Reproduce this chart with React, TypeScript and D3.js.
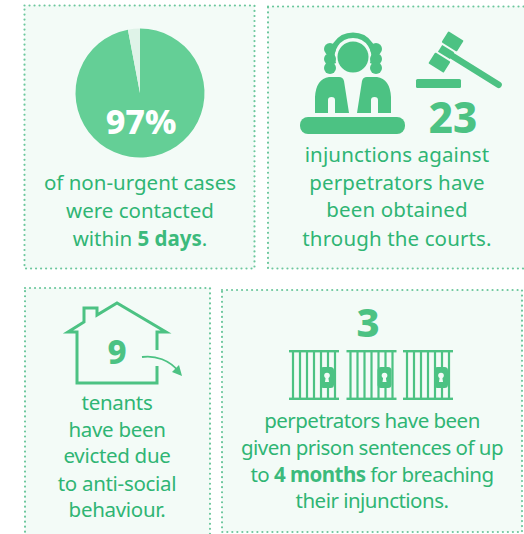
import React from 'react';
import * as d3 from 'd3';

const pieLabels = ['contacted', 'other'];
const pieValues = [97, 3];
const injunctions = 23;
const evictions = 9;
const prisonSentences = 3;
const jailCells = d3.range(prisonSentences);
const jailBars = [0, 1, 2, 3, 4, 5, 6];

type Run = { t: string; b?: boolean };
const pieLines: Run[][] = [
  [{ t: 'of non-urgent cases' }],
  [{ t: 'were contacted' }],
  [{ t: 'within ' }, { t: '5 days', b: true }, { t: '.' }],
];
const courtLines: Run[][] = [
  [{ t: 'injunctions against' }],
  [{ t: 'perpetrators have' }],
  [{ t: 'been obtained' }],
  [{ t: 'through the courts.' }],
];
const tenantLines: Run[][] = [
  [{ t: 'tenants' }],
  [{ t: 'have been' }],
  [{ t: 'evicted due' }],
  [{ t: 'to anti-social' }],
  [{ t: 'behaviour.' }],
];
const prisonLines: Run[][] = [
  [{ t: 'perpetrators have been' }],
  [{ t: 'given prison sentences of up' }],
  [{ t: 'to ' }, { t: '4 months', b: true }, { t: ' for breaching' }],
  [{ t: 'their injunctions.' }],
];

const FONT = '"Noto Sans", sans-serif';
const PANEL = '#f3fbf7';
const DOTS = '#6cc79d';
const TEXT = '#2fb574';
const ICON = '#4cc283';
const PIE_MAIN = '#64cf96';
const PIE_REST = '#dff3e8';

function Panel({ x, y, w, h }: { x: number; y: number; w: number; h: number }) {
  return (
    <rect x={x} y={y} width={w} height={h} fill={PANEL} stroke={DOTS} strokeWidth={2.2}
      strokeDasharray="0.01 5" strokeLinecap="round" />
  );
}

function Lines({ lines, x, baselines, spacing = 0 }: { lines: Run[][]; x: number; baselines: number[]; spacing?: number }) {
  return (
    <g fontFamily={FONT} fontSize={20.5} letterSpacing={spacing} fill={TEXT} textAnchor="middle">
      {lines.map((runs, i) => (
        <text key={i} x={x} y={baselines[i]}>
          {runs.map((r, j) => (
            <tspan key={j} fontWeight={r.b ? 700 : 400} fill={r.b ? '#3cba7c' : TEXT}>{r.t}</tspan>
          ))}
        </text>
      ))}
    </g>
  );
}

function BigNumber({ x, y, size, value, fill = ICON }: { x: number; y: number; size: number; value: string | number; fill?: string }) {
  return (
    <text x={x} y={y} fontFamily={FONT} fontSize={size} fontWeight={800} fill={fill} textAnchor="middle">{value}</text>
  );
}

function Sleeve({ x, flip }: { x: number; flip?: boolean }) {
  // outer shoulder is rounded, inner edge leans in, slit at the bottom
  return (
    <g transform={`translate(${x},77)${flip ? ' scale(-1,1)' : ''}`}>
      <path d="M0,36 V20 Q1,2 14,0 H24 Q28,0 29,4 L34,36 H20 V23 Q20,20 16.5,20 Q13,20 13,23 V36 Z" fill={ICON} />
    </g>
  );
}

export default function App() {
  const pie = d3.pie<number>().sort(null).startAngle(0).endAngle(2 * Math.PI);
  const arc = d3.arc<d3.PieArcDatum<number>>().innerRadius(0).outerRadius(64.5);
  const slices = pie(pieValues);

  const barX = d3.scalePoint<number>().domain(jailBars).range([4, 46]);
  const cellX = d3.scaleOrdinal<number, number>().domain(jailCells).range([289, 346.5, 403]);

  return (
    <svg width={524} height={534} viewBox="0 0 524 534"
      style={{ position: 'fixed', left: 0, top: 0, display: 'block', background: '#fff' }}>
      <Panel x={24.5} y={5.5} w={230} h={263} />
      <Panel x={268} y={6.5} w={262} h={262} />
      <Panel x={25} y={288} w={185} h={260} />
      <Panel x={222} y={290} w={300} h={242} />

      {/* pie */}
      <g transform="translate(140,93)">
        {slices.map((d, i) => (
          <path key={pieLabels[i]} d={arc(d) ?? ''} fill={i === 0 ? PIE_MAIN : PIE_REST} />
        ))}
      </g>
      <BigNumber x={141} y={134} size={34} value={`${pieValues[0]}%`} fill="#ffffff" />
      <Lines lines={pieLines} x={140} baselines={[190, 218, 246]} />

      {/* judge */}
      <g>
        <rect x={300} y={117} width={105} height={17} rx={8} fill={ICON} />
        <circle cx={353} cy={57} r={15.5} fill={ICON} />
        <path d="M333.5,64 A21,21 0 1 1 372.5,64" fill="none" stroke={ICON} strokeWidth={5.5} />
        {[49, 59, 68].map(cy => (
          <g key={cy}>
            <circle cx={330} cy={cy} r={6} fill={ICON} />
            <circle cx={376} cy={cy} r={6} fill={ICON} />
          </g>
        ))}
        <Sleeve x={315} />
        <Sleeve x={391} flip />
      </g>

      {/* gavel */}
      <rect x={416} y={79} width={45} height={9} rx={1.5} fill={ICON} />
      <g transform="translate(446,52) rotate(32)" fill={ICON}>
        <line x1={0} y1={0} x2={62} y2={0} stroke={ICON} strokeWidth={6.5} strokeLinecap="round" />
        <rect x={-9} y={-19} width={18} height={13} rx={1} />
        <rect x={-7} y={-4} width={14} height={8} />
        <rect x={-9} y={6} width={18} height={13} rx={1} />
      </g>
      <BigNumber x={453} y={133} size={42} value={injunctions} />
      <Lines lines={courtLines} x={397} baselines={[162, 190, 217, 246]} spacing={0.13} />

      {/* house */}
      <g fill="none" stroke={ICON} strokeWidth={3}>
        <path d="M157,350 V332 H166 L117,303 L97,315 V308 H84 V322 L68,332 H77 V383 H157 V366" />
        <path d="M142,357 C155,355 170,360 179,372" strokeWidth={1.8} />
      </g>
      <path d="M182,376 L172,372 L179,365 Z" fill={ICON} />
      <BigNumber x={117} y={364} size={33} value={evictions} />
      <Lines lines={tenantLines} x={117} baselines={[410, 437, 463, 491, 517]} spacing={-0.3} />

      {/* jail cells */}
      <BigNumber x={368} y={337} size={40} value={prisonSentences} />
      {jailCells.map(c => (
        <g key={c} transform={`translate(${cellX(c)},350)`} fill={ICON}>
          <rect x={0} y={0} width={50} height={2.4} />
          <rect x={0} y={47.6} width={50} height={2.4} />
          {jailBars.map(b => (
            <rect key={b} x={(barX(b) ?? 0) - 1.1} y={0} width={2.2} height={50} />
          ))}
          <rect x={31} y={17} width={14} height={21} rx={3.5} />
          <circle cx={38} cy={25.5} r={2.8} fill={PANEL} />
          <path d="M37,25 H39 L40,32 H36 Z" fill={PANEL} />
        </g>
      ))}
      <Lines lines={prisonLines} x={372} baselines={[428, 455, 482, 508]} spacing={-0.52} />
    </svg>
  );
}
